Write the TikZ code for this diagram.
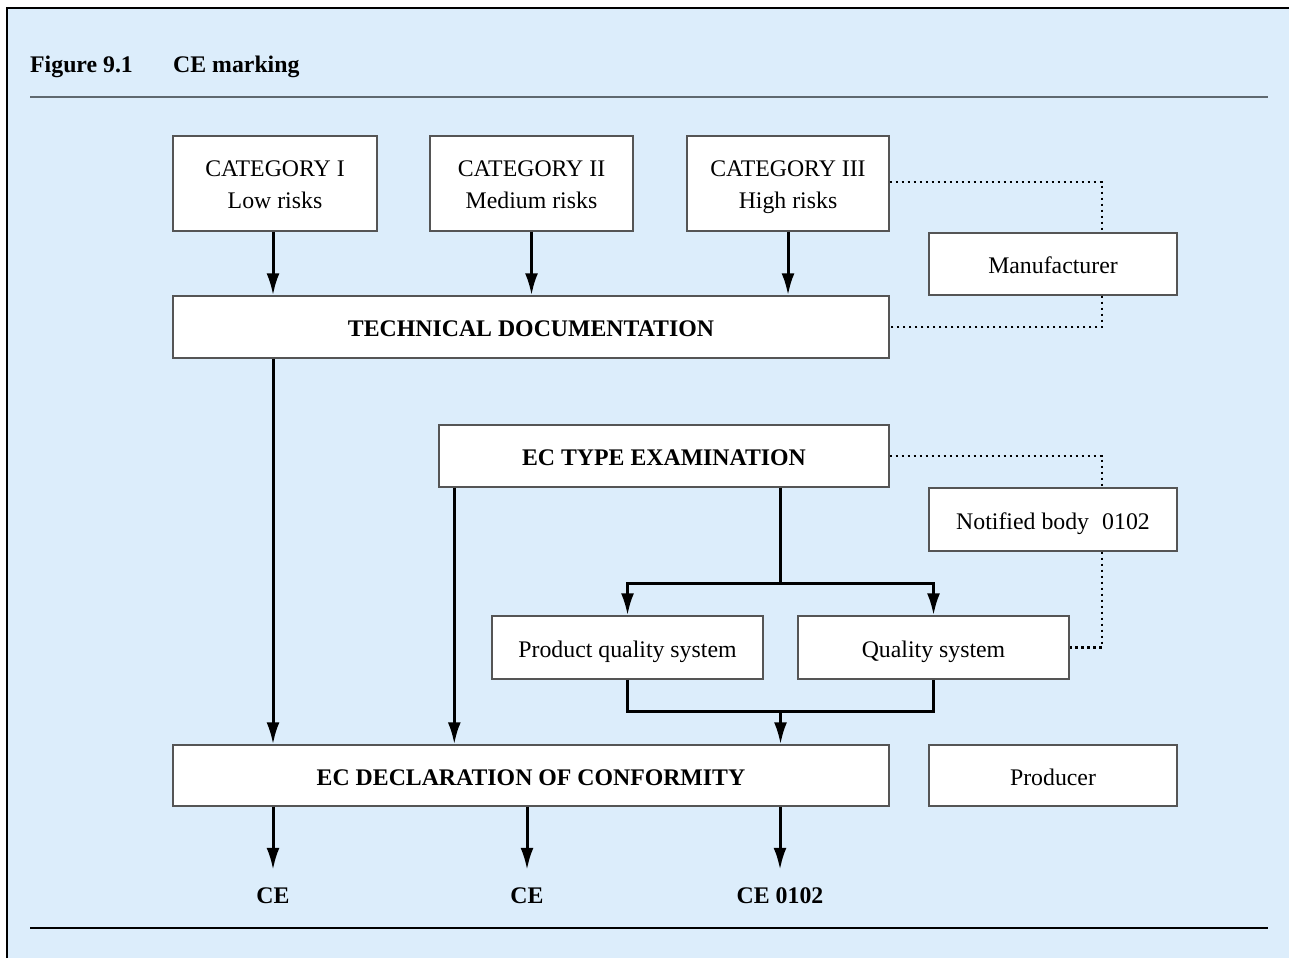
\documentclass[tikz,border=0pt]{standalone}
\usepackage{fontspec}
\setmainfont{Liberation Serif}
\usetikzlibrary{arrows.meta,calc}
\definecolor{bgblue}{RGB}{220,237,251}
\definecolor{boxline}{RGB}{85,85,85}
\definecolor{rulegray}{RGB}{95,105,112}
\newcommand{\topstrut}{\rule{0pt}{28.4pt}}
\begin{document}
\begin{tikzpicture}[x=1pt,y=-1pt,
  every node/.style={font=\fontsize{23.8}{32}\selectfont},
  bold/.style={font=\fontsize{23.8}{28}\selectfont\bfseries},
  box/.style={draw=boxline, fill=white, line width=1.4pt, inner sep=0pt, align=center},
  single/.style={text height=22pt, text depth=2.3pt},
  conn/.style={line width=3pt, line join=miter},
  arr/.style={conn, -{Latex[length=22pt,width=13pt]}},
  dotline/.style={line width=2.6pt, dash pattern=on 2.6pt off 3.4pt}]
\useasboundingbox (0,0) rectangle (1289,958);
\fill[bgblue] (7,8) rectangle (1289,958);
\draw[line width=2pt] (7,958) -- (7,8) -- (1289,8);
% title
\node[anchor=base west, inner sep=0pt, bold] (fig) at (30,73) {Figure 9.1};
\node[anchor=base west, inner sep=0pt, bold] (ttl) at (173,73) {CE marking};
\draw[rulegray, line width=2pt] (30,97) -- (1268,97);
\draw[black, line width=1.6pt] (30,928) -- (1268,928);
% boxes
\node[box, minimum width=204pt, minimum height=95pt] (cat1) at (275,183.5) {CATEGORY I\topstrut\\Low risks\strut};
\node[box, minimum width=203pt, minimum height=95pt] (cat2) at (531.5,183.5) {CATEGORY II\topstrut\\Medium risks\strut};
\node[box, minimum width=202pt, minimum height=95pt] (cat3) at (788,183.5) {CATEGORY III\topstrut\\High risks\strut};
\node[box, single, minimum width=248pt, minimum height=62pt] (man) at (1053,264) {Manufacturer};
\node[box, single, bold, minimum width=716pt, minimum height=62pt] (tech) at (531,327) {TECHNICAL DOCUMENTATION};
\node[box, single, bold, minimum width=450pt, minimum height=62pt] (ectype) at (664,456) {EC TYPE EXAMINATION};
\node[box, single, minimum width=248pt, minimum height=63pt] (nb) at (1053,519.5) {Notified body\hspace{0.55em}0102};
\node[box, single, minimum width=271pt, minimum height=63pt] (pqs) at (627.5,647.5) {Product quality system};
\node[box, single, minimum width=271pt, minimum height=63pt] (qs) at (933.5,647.5) {Quality system};
\node[box, single, bold, minimum width=716pt, minimum height=61pt] (ecdecl) at (531,775.5) {EC DECLARATION OF CONFORMITY};
\node[box, single, minimum width=248pt, minimum height=61pt] (prod) at (1053,775.5) {Producer};
% CE labels
\node[inner sep=0pt, bold] (ce1) at (273,896) {CE};
\node[inner sep=0pt, bold] (ce2) at (527,896) {CE};
\node[inner sep=0pt, bold] (ce3) at (780,896) {CE 0102};
% category arrows
\draw[arr] ([xshift=-2pt]cat1.south) -- ([xshift=-2pt]cat1.south |- tech.north);
\draw[arr] (cat2.south) -- (cat2.south |- tech.north);
\draw[arr] (cat3.south) -- (cat3.south |- tech.north);
% tech doc to declaration
\draw[arr] (ce1 |- tech.south) -- (ce1 |- ecdecl.north);
% EC type to declaration
\draw[arr] ([xshift=16pt]ectype.south west) -- ([xshift=16pt]ectype.south west |- ecdecl.north);
% branch
\coordinate (br) at (780.5,583);
\coordinate (mg) at (780.5,711);
\draw[conn] (br |- ectype.south) -- (br);
\draw[arr] (br) -| (pqs.north);
\draw[arr] (br) -| (qs.north);
\draw[conn] (pqs.south) |- (mg) -| (qs.south);
\draw[arr] (mg) -- (mg |- ecdecl.north);
% declaration to CE
\draw[arr] (ce1 |- ecdecl.south) -- ([yshift=18pt]ce1.north);
\draw[arr] (ce2 |- ecdecl.south) -- ([yshift=18pt]ce2.north);
\draw[arr] (ce3 |- ecdecl.south) -- ([yshift=18pt]ce3.north);
% dotted links
\draw[dotline] (cat3.east |- 0,182) -| ([xshift=49pt]man.north);
\draw[dotline] ([xshift=49pt]man.south) |- (tech.east);
\draw[dotline] (ectype.east) -| ([xshift=49pt]nb.north);
\draw[dotline] ([xshift=49pt]nb.south) |- (qs.east);
\end{tikzpicture}
\end{document}
